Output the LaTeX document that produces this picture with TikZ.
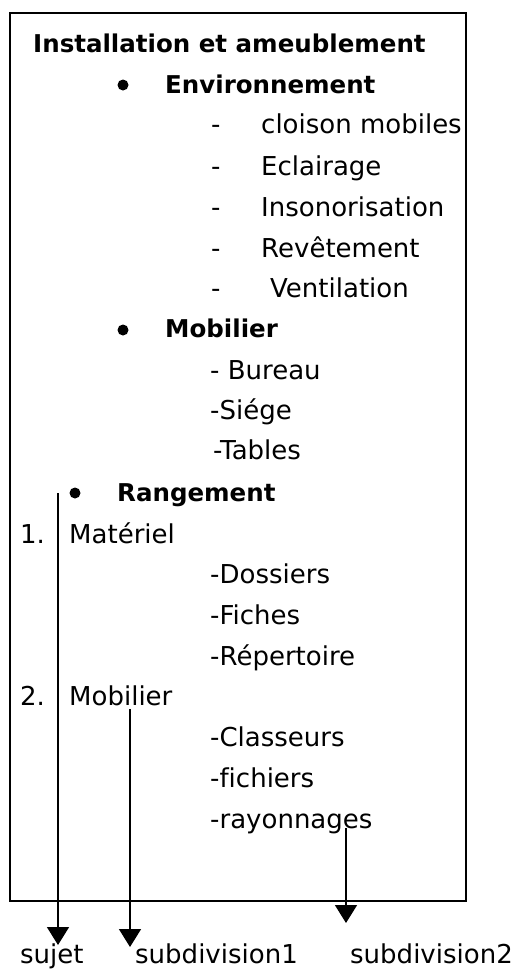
\documentclass[tikz,border=0pt]{standalone}
\usepackage{fontspec}
\setmainfont[Ligatures=NoCommon]{DejaVu Sans}
\usetikzlibrary{arrows.meta}

\begin{document}
\begin{tikzpicture}[x=1pt,y=-1pt,
  txt/.style={anchor=base west, inner sep=0pt, font=\fontsize{26}{26}\selectfont},
  bold/.style={txt, font=\fontsize{24.5}{24.5}\selectfont\bfseries},
  down/.style={line width=1.6pt, -{Triangle[width=22pt,length=18pt]}}]
\useasboundingbox (0,0) rectangle (517,972);
\draw[line width=1.3pt] (10,13) rectangle (466,901);
\node[bold] (titre) at (33,52) {Installation et ameublement};
% Environnement
\node[bold] (env) at (165,93) {Environnement};
\foreach \y/\n/\t/\x in {133/cloison/cloison mobiles/261, 175/eclair/Eclairage/261,
    216/inson/Insonorisation/261, 257/revet/Revêtement/261, 297/venti/Ventilation/270}{
  \node[txt] (d-\n) at (211,\y) {-};
  \node[txt] (\n) at (\x,\y) {\t};
}
% Mobilier
\node[bold] (mob) at (165,337) {Mobilier};
\node[txt] (bureau) at (210,379) {- Bureau};
\node[txt] (siege) at (210,419) {-Siége};
\node[txt] (tables) at (213,459) {-Tables};
% Rangement
\node[bold] (rang) at (117,501) {Rangement};
\node[txt] (un) at (20,543) {1.};
\node[txt] (materiel) at (69,543) {Matériel};
\node[txt] (dossiers) at (210,583) {-Dossiers};
\node[txt] (fiches) at (210,624) {-Fiches};
\node[txt] (repert) at (210,665) {-Répertoire};
\node[txt] (deux) at (20,705) {2.};
\node[txt] (mobil) at (69,705) {Mobilier};
\node[txt] (classeurs) at (210,746) {-Classeurs};
\node[txt] (fichiers) at (210,787) {-fichiers};
\node[txt] (rayon) at (210,828) {-rayonnages};
\foreach \pt in {(123,85), (123,330), (75,493)} \fill[black] \pt circle (5.5pt);
% legende
\node[txt] (sujet) at (20,963) {sujet};
\node[txt] (sub1) at (135,963) {subdivision1};
\node[txt] (sub2) at (350,963) {subdivision2};
\coordinate (a1) at (58,493);
\coordinate (b1) at (58,945);
\coordinate (a2) at (130,709);
\coordinate (b2) at (130,947);
\coordinate (a3) at (346,828);
\coordinate (b3) at (346,923);
\draw[down] (a1) -- (b1);
\draw[down] (a2) -- (b2);
\draw[down] (a3) -- (b3);
\end{tikzpicture}
\end{document}
